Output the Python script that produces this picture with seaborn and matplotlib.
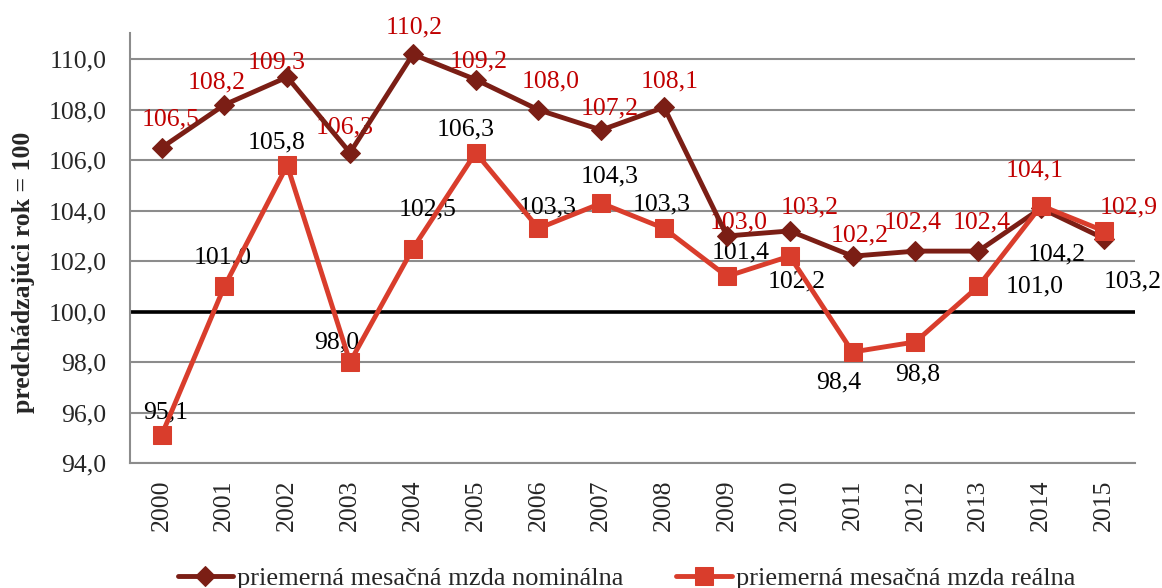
import numpy as np
import pandas as pd
import matplotlib
matplotlib.use("Agg")
import matplotlib.pyplot as plt
from matplotlib.ticker import FuncFormatter
import seaborn as sns

years = list(range(2000, 2016))
nominalna = [106.5, 108.2, 109.3, 106.3, 110.2, 109.2, 108.0, 107.2, 108.1,
             103.0, 103.2, 102.2, 102.4, 102.4, 104.1, 102.9]
realna = [95.1, 101.0, 105.8, 98.0, 102.5, 106.3, 103.3, 104.3, 103.3,
          101.4, 102.2, 98.4, 98.8, 101.0, 104.2, 103.2]
nazov_nom = "priemerná mesačná mzda nominálna"
nazov_real = "priemerná mesačná mzda reálna"
y_label = "predchádzajúci rok = 100"

# posun popiskov v pixeloch (dx, dy)
off_nom = [(9, 28), (-8, 22), (-11, 15), (-5, 25), (1, 27), (3, 18), (12, 28), (8, 22),
           (6, 26), (12, 14), (20, 23), (7, 21), (-3, 29), (3, 29), (-6, 38), (25, 31)]
off_real = [(4, 23), (-2, 29), (-11, 23), (-13, 20), (15, 39), (-10, 23), (9, 21), (8, 27),
            (-2, 24), (14, 24), (7, -25), (-14, -30), (2, -33), (56, 0), (16, -49), (29, -51)]

c_nom = "#7B1E15"
c_real = "#D93D2C"
c_lab = "#C00000"
c_grid = "#8C8C8C"

sns.set_style("white")
plt.rcParams['font.family'] = ['Liberation Serif', 'DejaVu Serif']


def fmt(v):
    return f"{v:.1f}".replace(".", ",")


df = pd.DataFrame({"rok": years, nazov_nom: nominalna, nazov_real: realna})

fig, ax = plt.subplots(figsize=(11.62, 5.88), dpi=100)
fig.subplots_adjust(left=0.112, right=0.977, top=0.944, bottom=0.2126)

sns.lineplot(data=df, x="rok", y=nazov_nom, ax=ax, color=c_nom, lw=3.5, marker="D",
             markersize=10, markeredgecolor=c_nom, label=nazov_nom, zorder=3)
sns.lineplot(data=df, x="rok", y=nazov_real, ax=ax, color=c_real, lw=3.5, marker="s",
             markersize=13, markeredgecolor=c_real, label=nazov_real, zorder=4)

for yr, v, (dx, dy) in zip(years, nominalna, off_nom):
    ax.annotate(fmt(v), (yr, v), xytext=(dx, dy), textcoords="offset pixels",
                ha="center", va="center", fontsize=18.5, color=c_lab, zorder=2)
for yr, v, (dx, dy) in zip(years, realna, off_real):
    ax.annotate(fmt(v), (yr, v), xytext=(dx, dy), textcoords="offset pixels",
                ha="center", va="center", fontsize=18.5, color="black", zorder=2)

ax.axhline(100, color="black", lw=2.6, zorder=2)

ax.set_xlim(1999.5, 2015.5)
ax.set_ylim(94, 111.05)
ax.set_yticks(np.arange(94, 111, 2))
ax.yaxis.set_major_formatter(FuncFormatter(lambda v, p: fmt(v)))
ax.set_xticks(years)
ax.set_xticklabels([str(y) for y in years], rotation=90)
ax.set_xticks(np.arange(1999.5, 2016, 1), minor=True)
ax.tick_params(axis="x", which="major", length=0, pad=12, labelsize=18.5)
ax.tick_params(axis="x", which="minor", length=10, width=1.5, color=c_grid)
ax.tick_params(axis="y", length=7, width=1.5, color=c_grid, pad=10, labelsize=18.5)
ax.grid(axis="y", color=c_grid, lw=1.5)
ax.set_axisbelow(True)
ax.set_xlabel("")
ax.set_ylabel("")
for s in ["top", "right"]:
    ax.spines[s].set_visible(False)
for s in ["left", "bottom"]:
    ax.spines[s].set_color(c_grid)
    ax.spines[s].set_linewidth(1.5)

fig.text(0.0198, 1 - 272 / 588, y_label, rotation=90, fontweight="bold",
         ha="center", va="center", fontsize=18.5)

handles, labels = ax.get_legend_handles_labels()
ax.get_legend().remove()
fig.legend(handles, labels, loc="center", bbox_to_anchor=(0.539, 0.017), ncol=2,
           frameon=False, fontsize=19, handlelength=2.1, handletextpad=0.15,
           columnspacing=2.0)

fig.savefig("out.png", dpi=100)
